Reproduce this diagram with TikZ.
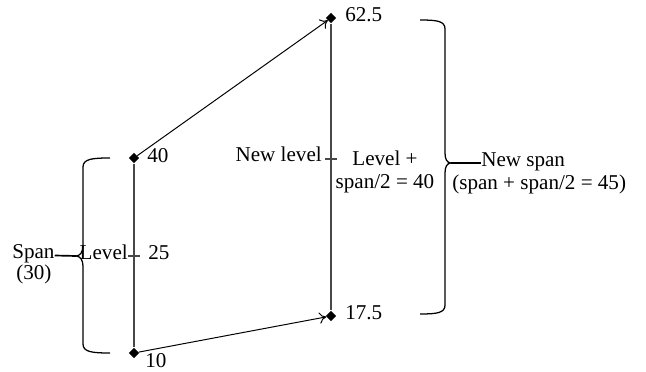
\documentclass[tikz,border=0pt]{standalone}
\usepackage{fontspec}
\setmainfont{Liberation Serif}
\usetikzlibrary{shapes.geometric, arrows.meta}

\begin{document}
\begin{tikzpicture}[x=0.025cm, y=-0.025cm, font=\fontsize{15}{16.5}\selectfont,
    dot/.style={diamond, fill=black, inner sep=0pt, minimum size=7.5pt},
    axis/.style={draw=black!72, line width=1.1pt},
    jump/.style={-{To[length=5pt, width=8pt]}, line width=0.7pt},
    curly/.style={line width=0.9pt},
    lbl/.style={inner sep=0pt, text height=0.7em, text depth=0.2em}]

    \useasboundingbox (0,0) rectangle (646,372);

    % Old range: level 25, span 30
    \node[dot] (oldtop) at (134,158) {};
    \node[dot] (oldbot) at (134,353) {};
    \draw[axis] (oldtop) -- (oldbot);
    \node[lbl, anchor=west] (oldmax) at (147,159) {40};
    \node[lbl, anchor=west] (oldmin) at (145,364) {10};

    % Old level tick
    \coordinate (oldmid) at (134,256);
    \draw[axis, line width=0.8pt] (oldmid) ++(-6,0) -- ++(12,0);
    \node[lbl, anchor=east] (oldlevel) at (128,256) {Level};
    \node[lbl, anchor=west] (oldval) at (148,256) {25};

    % Old span brace
    \draw[curly] (110,158) .. controls (92,158) and (83,159) .. (83,167) -- (83,246)
        .. controls (83,252) and (80,256) .. (76,256)
        .. controls (80,256) and (83,260) .. (83,266) -- (83,344)
        .. controls (83,352) and (92,353) .. (110,353);
    \coordinate (oldtip) at (76,256);
    \node[lbl, anchor=west] (span) at (12,255) {Span};
    \node[lbl, anchor=west] (spanval) at (16,276) {(30)};
    \draw[line width=1.2pt] (span) -- (oldtip);

    % New range: level 40, span 45
    \node[dot] (newtop) at (331,18) {};
    \node[dot] (newbot) at (331,316) {};
    \draw[axis] (newtop) -- (newbot);
    \node[lbl, anchor=west] (newmax) at (345,18) {62.5};
    \node[lbl, anchor=west] (newmin) at (345,316) {17.5};

    % New level tick
    \coordinate (newmid) at (331,159);
    \draw[axis, line width=0.8pt] (newmid) ++(-6,0) -- ++(12,0);
    \node[lbl, anchor=east] (newlevel) at (322,158) {New level};
    \node[align=center, inner sep=0pt] (newval) at (385,172) {Level +\\span/2 = 40};

    % Shift of both ends
    \draw[jump] (oldtop) -- (newtop);
    \draw[jump] (oldbot) -- (newbot);

    % New span brace
    \draw[curly] (420,20) .. controls (437,20) and (445,21) .. (445,29) -- (445,153)
        .. controls (445,159) and (447,163) .. (451,163)
        .. controls (447,163) and (445,167) .. (445,173) -- (445,305)
        .. controls (445,313) and (437,314) .. (420,314);
    \coordinate (newtip) at (451,163);
    \node[lbl, anchor=west] (newspan) at (481,163) {New span};
    \node[lbl, anchor=west] (newspanval) at (452,186) {(span + span/2 = 45)};
    \draw[line width=1.2pt] (newtip) -- (newspan);
\end{tikzpicture}
\end{document}
